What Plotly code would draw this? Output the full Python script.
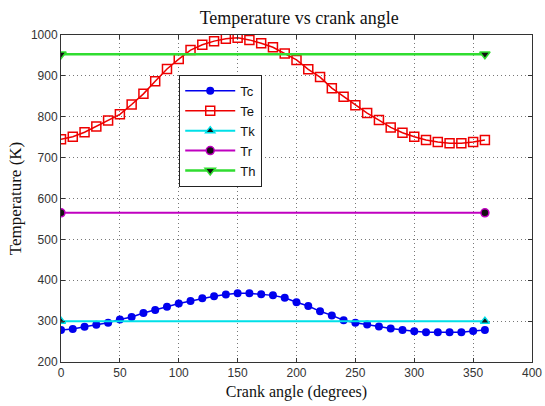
import plotly.graph_objects as go

angle = list(range(0, 361, 10))
Tc = [278, 281, 286, 291, 296, 304, 310, 320, 327, 335, 343, 349, 356, 361, 365, 368, 368, 366, 363, 357, 346,
      337, 324, 314, 302, 296, 292, 287, 282, 278, 275, 273, 273, 273, 273, 276, 278]
Te = [745, 751, 762, 776, 791, 806, 830, 856, 887, 917, 941, 963, 976, 985, 991, 993, 988, 980, 970, 955, 939,
      916, 897, 870, 849, 828, 809, 792, 774, 761, 751, 743, 738, 735, 735, 738, 743]
ends = [0, 360]
Tk = [300, 300]
Tr = [565, 565]
Th = [953, 953]

fig = go.Figure()
fig.add_trace(go.Scatter(x=angle, y=Tc, name="Tc", mode="lines+markers",
                         line=dict(color="#0000ee", width=1.5),
                         marker=dict(symbol="circle", size=8, color="#0000ee")))
fig.add_trace(go.Scatter(x=angle, y=Te, name="Te", mode="lines+markers",
                         line=dict(color="#ee0000", width=1.5),
                         marker=dict(symbol="square-open", size=9, color="#ee0000", line=dict(width=1.5))))
fig.add_trace(go.Scatter(x=ends, y=Tk, name="Tk", mode="lines+markers",
                         line=dict(color="#00e0e8", width=2),
                         marker=dict(symbol="triangle-up", size=8, color="#111111",
                                     line=dict(color="#00e0e8", width=1.5))))
fig.add_trace(go.Scatter(x=ends, y=Tr, name="Tr", mode="lines+markers",
                         line=dict(color="#c000c0", width=2),
                         marker=dict(symbol="circle", size=8, color="#111111",
                                     line=dict(color="#c000c0", width=1.5))))
fig.add_trace(go.Scatter(x=ends, y=Th, name="Th", mode="lines+markers",
                         line=dict(color="#30dd30", width=2.5),
                         marker=dict(symbol="triangle-down", size=9, color="#111111",
                                     line=dict(color="#30dd30", width=1.5))))

axis_common = dict(showline=True, linecolor="#333333", linewidth=1, mirror="ticks",
                   ticks="inside", ticklen=4, tickcolor="#333333", automargin=False,
                   showgrid=True, gridcolor="#777777", griddash="1px,3px", gridwidth=1,
                   zeroline=False, tickfont=dict(family="Liberation Sans, Arial", size=12, color="#333333"))

fig.update_layout(
    width=545, height=406,
    margin=dict(l=61, r=13, t=35, b=44),
    paper_bgcolor="white", plot_bgcolor="white",
    title=dict(text="Temperature vs crank angle", x=0.549, xanchor="center",
               y=1 - 18 / 406, yanchor="middle", yref="container",
               font=dict(family="Liberation Serif, Times New Roman", size=18, color="#111111")),
    xaxis=dict(range=[0, 400], dtick=50, tick0=0,
               title=dict(text="Crank angle (degrees)", standoff=6,
                          font=dict(family="Liberation Serif, Times New Roman", size=16, color="#111111")),
               **axis_common),
    yaxis=dict(range=[200, 1000], dtick=100, tick0=200,
               title=dict(text="Temperature (K)", standoff=4,
                          font=dict(family="Liberation Serif, Times New Roman", size=17, color="#111111")),
               **axis_common),
    legend=dict(x=0.251, y=0.878, xanchor="left", yanchor="top",
                bgcolor="white", bordercolor="#222222", borderwidth=1,
                font=dict(family="Liberation Sans, Arial", size=13, color="#111111"),
                tracegroupgap=0, itemwidth=50),
    showlegend=True,
)

fig.write_html("out.html")
